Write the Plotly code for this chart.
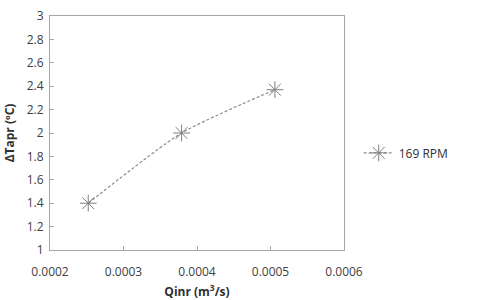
import plotly.graph_objects as go

q = [0.000252, 0.000379, 0.000506]
dt = [1.40, 2.00, 2.37]
series_name = "169 RPM"
xticks = [0.0002, 0.0003, 0.0004, 0.0005, 0.0006]
xticklabels = ["0.0002", "0.0003", "0.0004", "0.0005", "0.0006"]
yticks = [1, 1.2, 1.4, 1.6, 1.8, 2, 2.2, 2.4, 2.6, 2.8, 3]
yticklabels = ["1", "1.2", "1.4", "1.6", "1.8", "2", "2.2", "2.4", "2.6", "2.8", "3"]

fig = go.Figure()
fig.add_trace(go.Scatter(
    x=q, y=dt, name=series_name, mode="lines+markers",
    line=dict(color="#8c8c8c", width=1.2, dash="3px,2px", shape="spline", smoothing=0.6),
    marker=dict(symbol="asterisk-open", size=14, color="#7f7f7f",
                line=dict(color="#7f7f7f", width=1)),
))
font = "Open Sans, Liberation Sans, sans-serif"
fig.update_layout(
    width=482, height=300,
    margin=dict(l=50, r=138, t=16, b=50, autoexpand=False),
    paper_bgcolor="white", plot_bgcolor="white",
    font=dict(family=font, size=12, color="#404040"),
    showlegend=True,
    legend=dict(x=1.05, y=0.415, xanchor="left", yanchor="middle",
                font=dict(size=12, color="#303030"), bgcolor="rgba(0,0,0,0)"),
    xaxis=dict(range=[0.0002, 0.0006], tickvals=xticks, ticktext=xticklabels,
               automargin=False,
               showgrid=False, zeroline=False, showline=True, linecolor="#a6a6a6",
               linewidth=1, mirror=True, ticks="inside", ticklen=4, tickcolor="#a6a6a6",
               ticklabelstandoff=11,
               tickfont=dict(size=12, color="#404040"),
               title=dict(text="<b>Qinr (m<sup>3</sup>/s)</b>", font=dict(size=12, color="#303030"), standoff=12)),
    yaxis=dict(range=[1, 3], tickvals=yticks, ticktext=yticklabels,
               automargin=False,
               showgrid=False, zeroline=False, showline=True, linecolor="#a6a6a6",
               linewidth=1, mirror=True, ticks="inside", ticklen=4, tickcolor="#a6a6a6",
               ticklabelstandoff=3,
               tickfont=dict(size=12, color="#404040"),
               title=dict(text="<b>ΔTapr (ºC)</b>", font=dict(size=12, color="#303030"), standoff=9)),
)
fig.write_html("out.html")
